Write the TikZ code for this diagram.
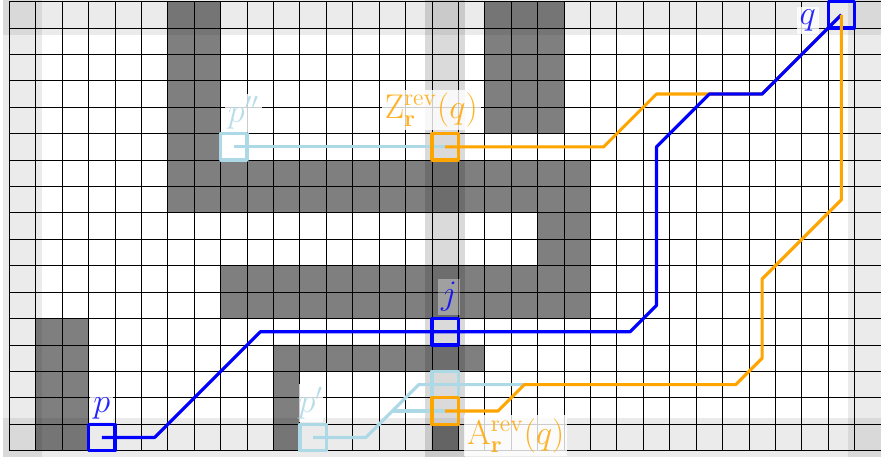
\documentclass[tikz,border=0pt]{standalone}
\usepackage{amsmath, amssymb}
\usepackage[dvipsnames, svgnames]{xcolor}
\usetikzlibrary{positioning}

\begin{document}
\begin{tikzpicture}[
            x=0.5cm, y=0.5cm,
            wall/.style={fill=black, fill opacity=0.5},
            band/.style={fill=black, fill opacity=0.08},
            cellbox/.style={draw, line width=1.8pt, line join=round, minimum size=0.5cm, inner sep=0pt},
            route/.style={line width=1.7pt, line join=round},
            tag/.style={fill=white, fill opacity=0.8, text opacity=0.85, inner sep=1.5pt, font=\LARGE, scale=1.07}
        ]
        \useasboundingbox (-0.352,-0.30) rectangle (33,17.06);

        %================================================
        % Grid and walls
        %================================================
        \draw[line width=0.45pt, step=0.5cm] (0,0) grid (33,17);
        \fill[wall] (6,9) rectangle (8,17) (8,9) rectangle (22,11)
                    (18,12) rectangle (21,17) (20,7) rectangle (22,9)
                    (8,5) rectangle (22,7) (1,0) rectangle (3,5)
                    (10,0) rectangle (11,3) (10,3) rectangle (18,4)
                    (16,0) rectangle (17,1);

        %================================================
        % Light bands: border rows, border columns, column j
        %================================================
        \foreach \xa/\xb in {-0.25/1.25, 15.75/17.25, 31.75/33.25}
            \fill[band] (\xa,-0.25) rectangle (\xb,17.25);
        \foreach \ya/\yb in {-0.25/1.25, 15.75/17.25}
            \fill[band] (-0.25,\ya) rectangle (33.25,\yb);
        \fill[black, fill opacity=0.07] (15.75,-0.25) rectangle (17.25,17.25);

        %================================================
        % Light blue routes
        %================================================
        \node[cellbox, LightBlue] (pp) at (11.5,0.5) {};
        \node[cellbox, LightBlue] (ppp) at (8.5,11.5) {};
        \node[cellbox, LightBlue] (up) at (16.5,2.5) {};
        \coordinate (join) at (19.5,2.5);
        \coordinate (low) at (16.5,1.5);

        \draw[route, LightBlue] (pp.center) -- (13.5,0.5) -- (15.5,2.5) -- (join);
        \draw[route, LightBlue] (14.5,1.5) -- (low);
        \draw[route, LightBlue] (ppp.center) -- (16.5,11.5);

        %================================================
        % Orange route into q, blue route, orange route out of q
        %================================================
        \coordinate (qc) at (31.5,16.5);
        \node[cellbox, Orange] (zr) at (16.5,11.5) {};
        \draw[route, Orange] (zr.center) -- (22.5,11.5) -- (24.5,13.5) -- (28.5,13.5) -- (qc);

        \node[cellbox, Blue] (p) at (3.5,0.5) {};
        \node[cellbox, Blue] (j) at (16.5,4.5) {};
        \node[cellbox, Blue] (q) at (qc) {};
        \draw[route, Blue] (p.center) -- (5.5,0.5) -- (9.5,4.5) -- (23.5,4.5)
            -- (24.5,5.5) -- (24.5,11.5) -- (26.5,13.5) -- (28.5,13.5) -- (q.center);

        \node[cellbox, Orange] (ar) at (low) {};
        \draw[route, Orange] (qc) -- (31.5,9.5) -- (28.5,6.5) -- (28.5,3.5) -- (27.5,2.5)
            -- (join) -- (18.5,1.5) -- (ar.center);

        %================================================
        % Labels
        %================================================
        \node[tag, text=Blue, above=0pt of p] (pl) {$p$};
        \node[tag, text=Blue, left=4pt of q, yshift=-3pt] (ql) {$q$};
        \node[tag, text=Blue, fill opacity=0.35, above=1pt of j, xshift=2pt] (jl) {$j$};
        \node[tag, text=LightBlue, anchor=south west, inner xsep=0pt] (ppl) at (pp.north west) {$p'$};
        \node[tag, text=LightBlue, anchor=south west] (pppl) at (8.15,12.05) {$p''$};
        \node[tag, text=Orange, above=1pt of zr, xshift=-7pt] (zl) {$\mathrm{Z}^{\mathrm{rev}}_{\mathbf{r}}(q)$};
        \node[tag, text=Orange, anchor=north west] (al) at (17.2,1.35) {$\mathrm{A}^{\mathrm{rev}}_{\mathbf{r}}(q)$};

        \end{tikzpicture}
\end{document}
